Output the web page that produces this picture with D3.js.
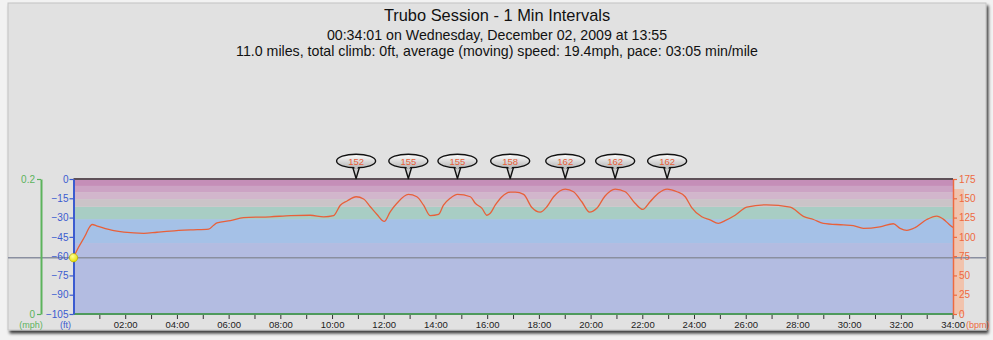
<!DOCTYPE html>
<html>
<head>
<meta charset="utf-8">
<script src="https://cdn.jsdelivr.net/npm/d3@7"></script>
<style>
  html, body { margin: 0; padding: 0; background: #f2f2f2; }
  svg { display: block; }
  text { font-family: "Liberation Sans", Arial, Helvetica, sans-serif; }
</style>
</head>
<body>
<svg id="chart" width="993" height="340"></svg>
<script>
// ---- Session summary text ----
const titleLines = [
  "Trubo Session - 1 Min Intervals",
  "00:34:01 on Wednesday, December 02, 2009 at 13:55",
  "11.0 miles, total climb: 0ft, average (moving) speed: 19.4mph, pace: 03:05 min/mile"
];

// ---- Heart rate trace (minutes, bpm) ----
const hrTimes = [
  0, 0.14, 0.46, 0.59, 0.72, 0.92, 1.56, 1.95, 2.72, 3.23, 3.75, 4.52, 5.23, 5.42, 5.55,
  6.07, 6.58, 7.6, 8.4, 9.16, 9.68, 10.06, 10.32, 10.58, 10.93, 11.22, 11.48, 11.74, 12.02,
  12.25, 12.51, 12.95, 13.28, 13.54, 13.8, 14.12, 14.31, 14.57, 14.85, 15.35, 15.54, 15.8,
  15.99, 16.12, 16.31, 16.57, 16.89, 17.09, 17.41, 17.73, 18.05, 18.31, 18.57, 19.02, 19.34,
  19.66, 19.96, 20.24, 20.56, 20.95, 21.34, 21.72, 22.02, 22.3, 22.62, 22.96, 23.34, 23.66,
  23.91, 24.3, 24.62, 24.94, 25.2, 25.59, 26.04, 26.81, 27.72, 28.23, 28.62, 29.0, 29.78,
  30.16, 30.55, 31.19, 31.71, 31.97, 32.23, 32.55, 33.0, 33.39, 33.64, 33.84, 34.02
];
const hrValues = [
  73, 83, 102, 111, 116, 114, 108, 106, 104.5, 106, 107.5, 109, 110, 115, 118,
  121, 125, 126, 127.5, 128, 126, 127.5, 141, 146.5, 152, 149, 139, 129, 120,
  132.5, 143.5, 155, 152, 141, 127.5, 129, 141, 150, 155, 152, 143.5, 137,
  128, 130.5, 141, 152, 158, 158, 155, 138, 132, 139, 152, 162, 158.5,
  145.5, 132, 137, 153, 162, 158.5, 143.5, 135.5, 145.5, 156.5, 162, 158.5, 152,
  138, 126, 122, 117.5, 121, 128, 138.5, 141.5, 138.5, 126.5, 122.5, 117.5, 115.5,
  114.5, 111, 113, 117, 111, 108.5, 112, 122.5, 127, 123, 117, 112
];

// ---- Interval peaks (minutes, bpm) ----
const peakTimes = [10.93, 12.95, 14.85, 16.89, 19.02, 20.95, 22.96];
const peakValues = [152, 155, 155, 158, 162, 162, 162];

// ---- Elevation and speed samples ----
const trackTimes = [0, 34.017];
const elevationFt = [0, 0];
const speedMph = [0, 0];

// ---- Heart rate zones (bpm bounds, drawn as bands) ----
const zoneBounds = [0, 92, 123, 139, 149, 158, 166, 175];
const zoneColors = ["#b3bce1", "#a5c1e7", "#a8cdc4", "#cbc4c8", "#d2b6cc", "#cca3c4", "#c58eb8"];
const maxHr = 162;

// ---- Axis ticks ----
const timeTicks = d3.range(1, 35);
const elevTicks = [0, -15, -30, -45, -60, -75, -90, -105];
const hrTicks = [0, 25, 50, 75, 100, 125, 150, 175];
const speedTicks = [0, 0.2];
const cursorTime = 0;

const svg = d3.select("#chart");
const defs = svg.append("defs");

const shadow = defs.append("filter").attr("id", "panelShadow")
  .attr("x", "-5%").attr("y", "-5%").attr("width", "110%").attr("height", "115%");
shadow.append("feDropShadow").attr("dx", 2).attr("dy", 3).attr("stdDeviation", 1.6)
  .attr("flood-color", "#000").attr("flood-opacity", 0.75);

const bubbleGrad = defs.append("linearGradient").attr("id", "bubbleFill")
  .attr("x1", 0).attr("y1", 0).attr("x2", 0).attr("y2", 1);
bubbleGrad.append("stop").attr("offset", "0%").attr("stop-color", "#ffffff");
bubbleGrad.append("stop").attr("offset", "100%").attr("stop-color", "#b8b8b8");

const dotGrad = defs.append("radialGradient").attr("id", "dotFill")
  .attr("cx", "40%").attr("cy", "35%").attr("r", "65%");
dotGrad.append("stop").attr("offset", "0%").attr("stop-color", "#ffff9a");
dotGrad.append("stop").attr("offset", "100%").attr("stop-color", "#e8e000");

// Panel
svg.append("rect").attr("x", 8).attr("y", 3).attr("width", 978).attr("height", 327)
  .attr("fill", "#e1e1e1").attr("stroke", "#c4c4c4").attr("filter", "url(#panelShadow)");

// Title block
svg.append("g").selectAll("text").data(titleLines).join("text")
  .attr("x", 497)
  .attr("y", (d, i) => [21, 40, 56][i])
  .attr("text-anchor", "middle")
  .attr("font-size", (d, i) => i === 0 ? 16.4 : 14.2)
  .attr("fill", "#111")
  .text(d => d);

// Scales
const x = d3.scaleLinear().domain([0, 34.017]).range([73.5, 953]);
const yHr = d3.scaleLinear().domain([0, 175]).range([314, 179]);
const yElev = d3.scaleLinear().domain([-105, 0]).range([314, 179]);
const ySpeed = d3.scaleLinear().domain([0, 0.2]).range([314, 179]);

// Heart-rate zone bands
const zones = zoneColors.map((c, i) => ({ lo: zoneBounds[i], hi: zoneBounds[i + 1], color: c }));
svg.append("g").selectAll("rect").data(zones).join("rect")
  .attr("x", x(0)).attr("width", x(34.017) - x(0))
  .attr("y", d => yHr(d.hi)).attr("height", d => yHr(d.lo) - yHr(d.hi))
  .attr("fill", d => d.color);

// Max heart rate bar beside the bpm axis
svg.append("rect")
  .attr("x", x(34.017) + 1).attr("width", 10)
  .attr("y", yHr(maxHr)).attr("height", yHr(0) - yHr(maxHr))
  .attr("fill", "#f1c3ad");

// Cursor line across the panel
const cursorHr = hrValues[hrTimes.indexOf(cursorTime)];
svg.append("line")
  .attr("x1", 8).attr("x2", 986)
  .attr("y1", yHr(cursorHr)).attr("y2", yHr(cursorHr))
  .attr("stroke", "#8a8fa0").attr("stroke-width", 1.6);

// Elevation (top) and speed (bottom) series
const elevLine = d3.line().x((d, i) => x(trackTimes[i])).y(d => yElev(d));
svg.append("path").datum(elevationFt).attr("d", elevLine)
  .attr("fill", "none").attr("stroke", "#5e5058").attr("stroke-width", 2.2);
const speedLine = d3.line().x((d, i) => x(trackTimes[i])).y(d => ySpeed(d));
svg.append("path").datum(speedMph).attr("d", speedLine)
  .attr("fill", "none").attr("stroke", "#4f9a5c").attr("stroke-width", 2);

// Heart rate line
const hrLine = d3.line().curve(d3.curveMonotoneX)
  .x((d, i) => x(hrTimes[i])).y(d => yHr(d));
svg.append("path").datum(hrValues).attr("d", hrLine)
  .attr("fill", "none").attr("stroke", "#e8603a").attr("stroke-width", 1.3);

// Axes
function styleAxis(g, color, fontSize) {
  g.select(".domain").attr("stroke", color).attr("stroke-width", 2);
  g.selectAll(".tick line").attr("stroke", color).attr("stroke-width", 1.2);
  g.selectAll(".tick text").attr("fill", color).attr("font-size", fontSize)
    .attr("font-family", "'Liberation Sans', Arial, sans-serif");
}

const speedAxis = svg.append("g").attr("transform", "translate(41,0)")
  .call(d3.axisLeft(ySpeed).tickValues(speedTicks).tickSize(4).tickSizeOuter(0).tickPadding(2)
    .tickFormat(d => d === 0 ? "0" : d3.format(".1f")(d)));
styleAxis(speedAxis, "#5cb35c", 10);

const elevAxis = svg.append("g").attr("transform", `translate(${x(0)},0)`)
  .call(d3.axisLeft(yElev).tickValues(elevTicks).tickSize(4).tickSizeOuter(0).tickPadding(1)
    .tickFormat(d3.format("d")));
styleAxis(elevAxis, "#3b5bd0", 10);

const hrAxis = svg.append("g").attr("transform", `translate(${x(34.017)},0)`)
  .call(d3.axisRight(yHr).tickValues(hrTicks).tickSize(4).tickSizeOuter(0).tickPadding(2));
styleAxis(hrAxis, "#ee6a40", 10);
hrAxis.select(".domain").attr("stroke-width", 1.5);

const timeAxis = svg.append("g").attr("transform", "translate(0,315)")
  .call(d3.axisBottom(x).tickValues(timeTicks).tickSize(4).tickSizeOuter(0).tickPadding(2)
    .tickFormat(d => d % 2 === 0 ? d3.format("02d")(d) + ":00" : ""));
timeAxis.select(".domain").remove();
timeAxis.selectAll(".tick line").attr("stroke", "#333").attr("stroke-width", 1);
timeAxis.selectAll(".tick text").attr("fill", "#222").attr("font-size", 9.5)
  .attr("font-family", "'Liberation Sans', Arial, sans-serif");

// Unit labels
const units = [
  { text: "(mph)", x: 31, anchor: "middle", color: "#5cb35c" },
  { text: "(ft)", x: 71, anchor: "end", color: "#3b5bd0" },
  { text: "(bpm)", x: 966, anchor: "start", color: "#ee6a40" }
];
svg.append("g").selectAll("text").data(units).join("text")
  .attr("x", d => d.x).attr("y", 328)
  .attr("text-anchor", d => d.anchor)
  .attr("font-size", 9)
  .attr("fill", d => d.color)
  .text(d => d.text);

// Cursor marker
svg.append("circle")
  .attr("cx", x(cursorTime)).attr("cy", yHr(cursorHr)).attr("r", 4.2)
  .attr("fill", "url(#dotFill)").attr("stroke", "#b0a800").attr("stroke-width", 0.6);

// Peak callouts
const bubbles = svg.append("g").selectAll("g")
  .data(peakTimes.map((t, i) => ({ t, v: peakValues[i] })))
  .join("g")
  .attr("transform", d => `translate(${x(d.t)},161)`);
bubbles.append("path")
  .attr("d", `M-4,4 L0,${yHr(175) - 161 - 0.5} L4,4 Z`)
  .attr("fill", "#d0d0d0").attr("stroke", "#111").attr("stroke-width", 1.4)
  .attr("stroke-linejoin", "round");
bubbles.append("ellipse")
  .attr("rx", 19.5).attr("ry", 6.8)
  .attr("fill", "url(#bubbleFill)").attr("stroke", "#111").attr("stroke-width", 1.4);
bubbles.append("path")
  .attr("d", "M-3,4.5 L0,9 L3,4.5 Z")
  .attr("fill", "#c0c0c0");
bubbles.append("text")
  .attr("y", 3.5).attr("text-anchor", "middle")
  .attr("font-size", 9.5).attr("fill", "#e8603a")
  .text(d => d.v);
</script>
</body>
</html>
